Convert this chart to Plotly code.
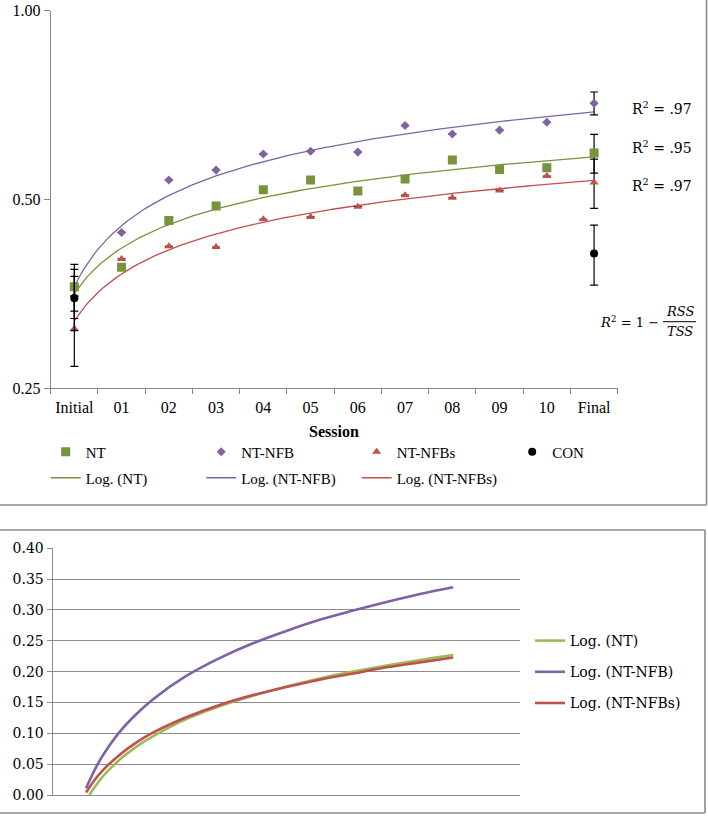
import numpy as np
import plotly.graph_objects as go

# ---------------- data (top chart) ----------------
sessions = ["Initial", "01", "02", "03", "04", "05", "06", "07", "08", "09", "10", "Final"]
session_idx = [1, 2, 3, 4, 5, 6, 7, 8, 9, 10, 11, 12]

nt = [0.363, 0.390, 0.463, 0.488, 0.518, 0.537, 0.516, 0.539, 0.578, 0.558, 0.562, 0.593]
nt_nfb = [0.350, 0.443, 0.537, 0.557, 0.591, 0.597, 0.595, 0.656, 0.636, 0.645, 0.664, 0.712]
nt_nfbs = [0.311, 0.402, 0.421, 0.420, 0.465, 0.469, 0.487, 0.508, 0.503, 0.517, 0.545, 0.532]
con = [0.348, None, None, None, None, None, None, None, None, None, None, 0.410]

nt_err = [0.031, None, None, None, None, None, None, None, None, None, None, 0.042]
nt_nfb_err = [0.027, None, None, None, None, None, None, None, None, None, None, 0.030]
nt_nfbs_err = [0.040, None, None, None, None, None, None, None, None, None, None, 0.048]
con_err = [0.039, None, None, None, None, None, None, None, None, None, None, 0.045]

r2_labels = ["R<sup>2</sup> = .97", "R<sup>2</sup> = .95", "R<sup>2</sup> = .97"]
y_ticks_top = [0.25, 0.50, 1.00]
y_ticktext_top = ["0.25", "0.50", "1.00"]

# ---------------- data (bottom chart) ----------------
curve_x = [1, 1.25, 1.5, 2, 2.5, 3, 4, 5, 6, 7, 8, 9, 10, 11, 12]
curve_x_nt = [1.1, 1.25, 1.5, 2, 2.5, 3, 4, 5, 6, 7, 8, 9, 10, 11, 12]
log_nt_curve = [0.000, 0.012, 0.030, 0.057, 0.078, 0.095, 0.123, 0.144, 0.161, 0.176, 0.189, 0.200, 0.210, 0.219, 0.227]
log_nfb_curve = [0.011, 0.040, 0.064, 0.102, 0.131, 0.155, 0.193, 0.222, 0.246, 0.266, 0.284, 0.299, 0.313, 0.326, 0.337]
log_nfbs_curve = [0.004, 0.024, 0.040, 0.065, 0.085, 0.101, 0.126, 0.146, 0.162, 0.175, 0.187, 0.197, 0.207, 0.215, 0.223]

# ---------------- styling ----------------
W, H = 708, 816
GREEN = "#77933C"
PURPLE = "#8064A2"
RED = "#C0504D"
GREEN2 = "#9BBB59"
PURPLE2 = "#7E62A8"
AX = "#868686"
GRID = "#8C8C8C"
SERIF = "Liberation Serif, Times New Roman, serif"
SERIF2 = "DejaVu Serif, serif"


def px(x):
    return x / W


def py(y):
    return 1 - y / H


fig = go.Figure()

# trendlines (logarithmic fit, as in the original chart)
log_x = np.log(np.array(session_idx, dtype=float))
grid = np.linspace(1, 12, 150)
for name, vals, color in [("NT", nt, GREEN), ("NT-NFB", nt_nfb, PURPLE), ("NT-NFBs", nt_nfbs, RED)]:
    a, b = np.polyfit(log_x, np.array(vals, dtype=float), 1)
    fig.add_trace(go.Scatter(
        x=grid, y=a * np.log(grid) + b, mode="lines",
        line=dict(color=color, width=1.3),
        name=f"Log. ({name})", legend="legend2", xaxis="x", yaxis="y",
        hoverinfo="skip"))

err_style = dict(type="data", color="black", thickness=1.2, width=4)
for name, vals, errs, color, symbol, size in [
    ("NT", nt, nt_err, GREEN, "square", 9),
    ("NT-NFB", nt_nfb, nt_nfb_err, PURPLE, "diamond", 7),
    ("NT-NFBs", nt_nfbs, nt_nfbs_err, RED, "triangle-up", 8),
    ("CON", con, con_err, "black", "circle", 8),
]:
    fig.add_trace(go.Scatter(
        x=session_idx, y=vals, mode="markers", name=name,
        marker=dict(symbol=symbol, size=size, color=color, line=dict(width=0)),
        error_y=dict(array=errs, **err_style),
        legend="legend", xaxis="x", yaxis="y"))

# bottom chart curves
for name, xs, ys, color in [
    ("Log. (NT)", curve_x_nt, log_nt_curve, GREEN2),
    ("Log. (NT-NFB)", curve_x, log_nfb_curve, PURPLE2),
    ("Log. (NT-NFBs)", curve_x, log_nfbs_curve, RED),
]:
    fig.add_trace(go.Scatter(
        x=xs, y=ys, mode="lines", name=name,
        line=dict(color=color, width=2.6, shape="spline"),
        legend="legend3", legendgroup=name, xaxis="x2", yaxis="y2"))

top_font = dict(family=SERIF, size=16, color="black")
bot_font = dict(family=SERIF2, size=14, color="black")

fig.update_layout(
    width=W, height=H,
    font=dict(family=SERIF, color="black"),
    margin=dict(l=0, r=0, t=0, b=0, autoexpand=False),
    paper_bgcolor="white", plot_bgcolor="white",
    showlegend=True,
    xaxis=dict(
        domain=[px(50.7), px(617.7)], range=[0.5, 12.5], anchor="y",
        tickmode="array", tickvals=session_idx, ticktext=sessions, ticks="",
        ticklabelstandoff=4,
        minor=dict(tickmode="array", tickvals=[v - 0.5 for v in session_idx] + [12.5],
                   ticks="outside", ticklen=5, tickcolor=AX, tickwidth=1, showgrid=False),
        showline=True, linecolor=AX, linewidth=1, showgrid=False, zeroline=False,
        tickfont=top_font,
    ),
    yaxis=dict(
        domain=[py(388.3), py(10.7)], type="log", range=[np.log10(0.25), 0], anchor="x",
        tickmode="array", tickvals=y_ticks_top, ticktext=y_ticktext_top,
        ticks="outside", ticklen=6, tickcolor=AX, tickwidth=1,
        showline=True, linecolor=AX, linewidth=1, showgrid=False, zeroline=False,
        tickfont=top_font,
    ),
    xaxis2=dict(
        domain=[px(52.7), px(520)], range=[0, 14], anchor="y2",
        showticklabels=False, ticks="", showgrid=False, zeroline=False,
        showline=True, linecolor=GRID, linewidth=1.3,
    ),
    yaxis2=dict(
        domain=[py(795), py(548.3)], range=[0, 0.4], anchor="x2",
        tickmode="linear", tick0=0, dtick=0.05, tickformat=".2f",
        ticks="outside", ticklen=5, tickcolor=GRID, tickwidth=1.3,
        showgrid=True, gridcolor=GRID, gridwidth=1.3,
        showline=True, linecolor=GRID, linewidth=1.3, zeroline=False,
        tickfont=bot_font,
    ),
    legend=dict(
        orientation="h", x=px(45.7), xanchor="left", y=py(452), yanchor="middle",
        entrywidth=110.5, entrywidthmode="pixels", traceorder="normal",
        font=dict(family=SERIF, size=15, color="black"), bgcolor="rgba(0,0,0,0)",
    ),
    legend2=dict(
        orientation="h", x=px(45.7), xanchor="left", y=py(478), yanchor="middle",
        entrywidth=110.5, entrywidthmode="pixels", traceorder="normal",
        font=dict(family=SERIF, size=15, color="black"), bgcolor="rgba(0,0,0,0)",
    ),
    legend3=dict(
        orientation="v", x=px(530), xanchor="left", y=py(625), yanchor="top",
        tracegroupgap=10, traceorder="grouped",
        font=bot_font, bgcolor="rgba(0,0,0,0)",
    ),
)

annotations = [
    dict(x=px(334.2), y=py(431.7), text="<b>Session</b>", font=dict(family=SERIF, size=16, color="black")),
]
for lbl, yy in zip(r2_labels, [108.3, 146.7, 185.0]):
    annotations.append(dict(x=px(630), y=py(yy), xanchor="left", text=lbl,
                            font=dict(family=SERIF2, size=14, color="black")))
annotations += [
    dict(x=px(598), y=py(322), xanchor="left", text="<i>R</i><sup>2</sup> = 1 −",
         font=dict(family=SERIF2, size=13, color="black")),
    dict(x=px(679.5), y=py(311.5), text="<i>RSS</i>", font=dict(family=SERIF2, size=13, color="black")),
    dict(x=px(679.5), y=py(331.5), text="<i>TSS</i>", font=dict(family=SERIF2, size=13, color="black")),
]
for a in annotations:
    a.update(xref="paper", yref="paper", showarrow=False)
    a.setdefault("xanchor", "center")
    a.setdefault("yanchor", "middle")
fig.update_layout(annotations=annotations)

shapes = [
    # fraction bar
    dict(x0=px(663), x1=px(696), y0=py(321.7), y1=py(321.7), line=dict(color="black", width=1)),
    # top panel border (right and bottom)
    dict(x0=px(706.5), x1=px(706.5), y0=py(-2), y1=py(505), line=dict(color=GRID, width=1.6)),
    dict(x0=px(-2), x1=px(706.5), y0=py(505), y1=py(505), line=dict(color=GRID, width=1.6)),
    # bottom panel border
    dict(x0=px(-2), x1=px(705), y0=py(530), y1=py(530), line=dict(color=GRID, width=1.6)),
    dict(x0=px(705), x1=px(705), y0=py(530), y1=py(813), line=dict(color=GRID, width=1.6)),
    dict(x0=px(-2), x1=px(705), y0=py(813), y1=py(813), line=dict(color=GRID, width=1.6)),
]
for s in shapes:
    s.update(type="line", xref="paper", yref="paper")
fig.update_layout(shapes=shapes)

fig.write_html(
    "out.html",
    config={"displayModeBar": False},
    post_script="document.body.style.margin='0px';document.body.style.overflow='hidden';",
)
